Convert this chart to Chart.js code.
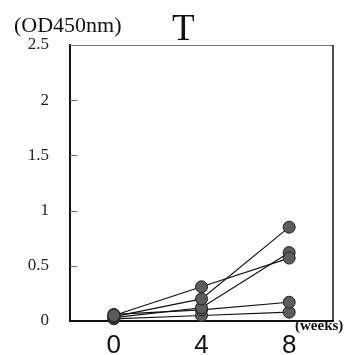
<!DOCTYPE html>
<html>
<head>
<meta charset="utf-8">
<script src="https://cdn.jsdelivr.net/npm/chart.js@4.4.0/dist/chart.umd.min.js"></script>
<style>
  body { margin: 0; background: #fff; }
  #wrap { width: 354px; height: 355px; }
</style>
</head>
<body>
<div id="wrap"><canvas id="chart" width="354" height="355"></canvas></div>
<script>
// Data
const weeks = [0, 4, 8];
const mouse1 = [0.05, 0.31, 0.57];
const mouse2 = [0.04, 0.20, 0.85];
const mouse3 = [0.03, 0.12, 0.62];
const mouse4 = [0.06, 0.10, 0.17];
const mouse5 = [0.02, 0.05, 0.08];
const seriesList = [mouse1, mouse2, mouse3, mouse4, mouse5];
const yTicks = [0, 0.5, 1, 1.5, 2, 2.5];
const xTicks = [0, 4, 8];

const SERIF = '"Liberation Serif", "Times New Roman", serif';
const SANS = '"Liberation Sans", Arial, sans-serif';

const datasets = seriesList.map(vals => ({
    data: weeks.map((w, i) => ({ x: w, y: vals[i] })),
    borderColor: '#111',
    borderWidth: 1.2,
    pointRadius: 6,
    pointBackgroundColor: '#5c5c5c',
    pointBorderColor: '#222',
    pointBorderWidth: 1,
    tension: 0,
    clip: false
}));

// Extra texts, frame and inner tick marks
const decorations = {
    id: 'decorations',
    afterDraw(chart) {
        const ctx = chart.ctx;
        const { left, right, top, bottom } = chart.chartArea;
        const yScale = chart.scales.y;
        ctx.save();
        // top and right frame
        ctx.strokeStyle = '#777';
        ctx.lineWidth = 1;
        ctx.beginPath();
        ctx.moveTo(left, top + 0.5);
        ctx.lineTo(right, top + 0.5);
        ctx.stroke();
        ctx.strokeStyle = '#111';
        ctx.lineWidth = 1.5;
        ctx.beginPath();
        ctx.moveTo(right, top);
        ctx.lineTo(right, bottom);
        ctx.stroke();
        // inner y ticks
        ctx.strokeStyle = '#666';
        ctx.lineWidth = 1;
        yTicks.slice(1, -1).forEach(v => {
            const py = Math.round(yScale.getPixelForValue(v)) + 0.5;
            ctx.beginPath();
            ctx.moveTo(left, py);
            ctx.lineTo(left + 7, py);
            ctx.stroke();
        });
        // texts
        ctx.fillStyle = '#111';
        ctx.textBaseline = 'alphabetic';
        ctx.textAlign = 'left';
        ctx.font = '22px ' + SERIF;
        ctx.fillText('(OD450nm)', 14, 32);
        ctx.font = '37px ' + SERIF;
        ctx.fillText('T', 172, 40);
        ctx.font = 'bold 15px ' + SERIF;
        ctx.fillText('(weeks)', 295, 330);
        ctx.restore();
    }
};

new Chart(document.getElementById('chart'), {
    type: 'line',
    data: { datasets },
    options: {
        responsive: false,
        animation: false,
        devicePixelRatio: 1,
        layout: { padding: { left: 0, right: 21, top: 45, bottom: 0 } },
        plugins: {
            legend: { display: false },
            tooltip: { enabled: false }
        },
        scales: {
            x: {
                type: 'linear',
                min: -2,
                max: 10,
                afterBuildTicks: s => { s.ticks = xTicks.map(v => ({ value: v })); },
                afterFit: s => { s.height = 34; },
                grid: { display: false, drawTicks: false },
                border: { display: true, color: '#111', width: 2 },
                ticks: {
                    padding: 9,
                    color: '#111',
                    font: { family: SANS, size: 26 },
                    maxRotation: 0,
                    callback: v => String(v)
                }
            },
            y: {
                min: 0,
                max: 2.5,
                afterBuildTicks: s => { s.ticks = yTicks.map(v => ({ value: v })); },
                afterFit: s => { s.width = 70; },
                grid: { display: false, drawTicks: false },
                border: { display: true, color: '#111', width: 2 },
                ticks: {
                    padding: 21,
                    color: '#222',
                    font: { family: SERIF, size: 17 },
                    callback: v => String(v)
                }
            }
        }
    },
    plugins: [decorations]
});
</script>
</body>
</html>
